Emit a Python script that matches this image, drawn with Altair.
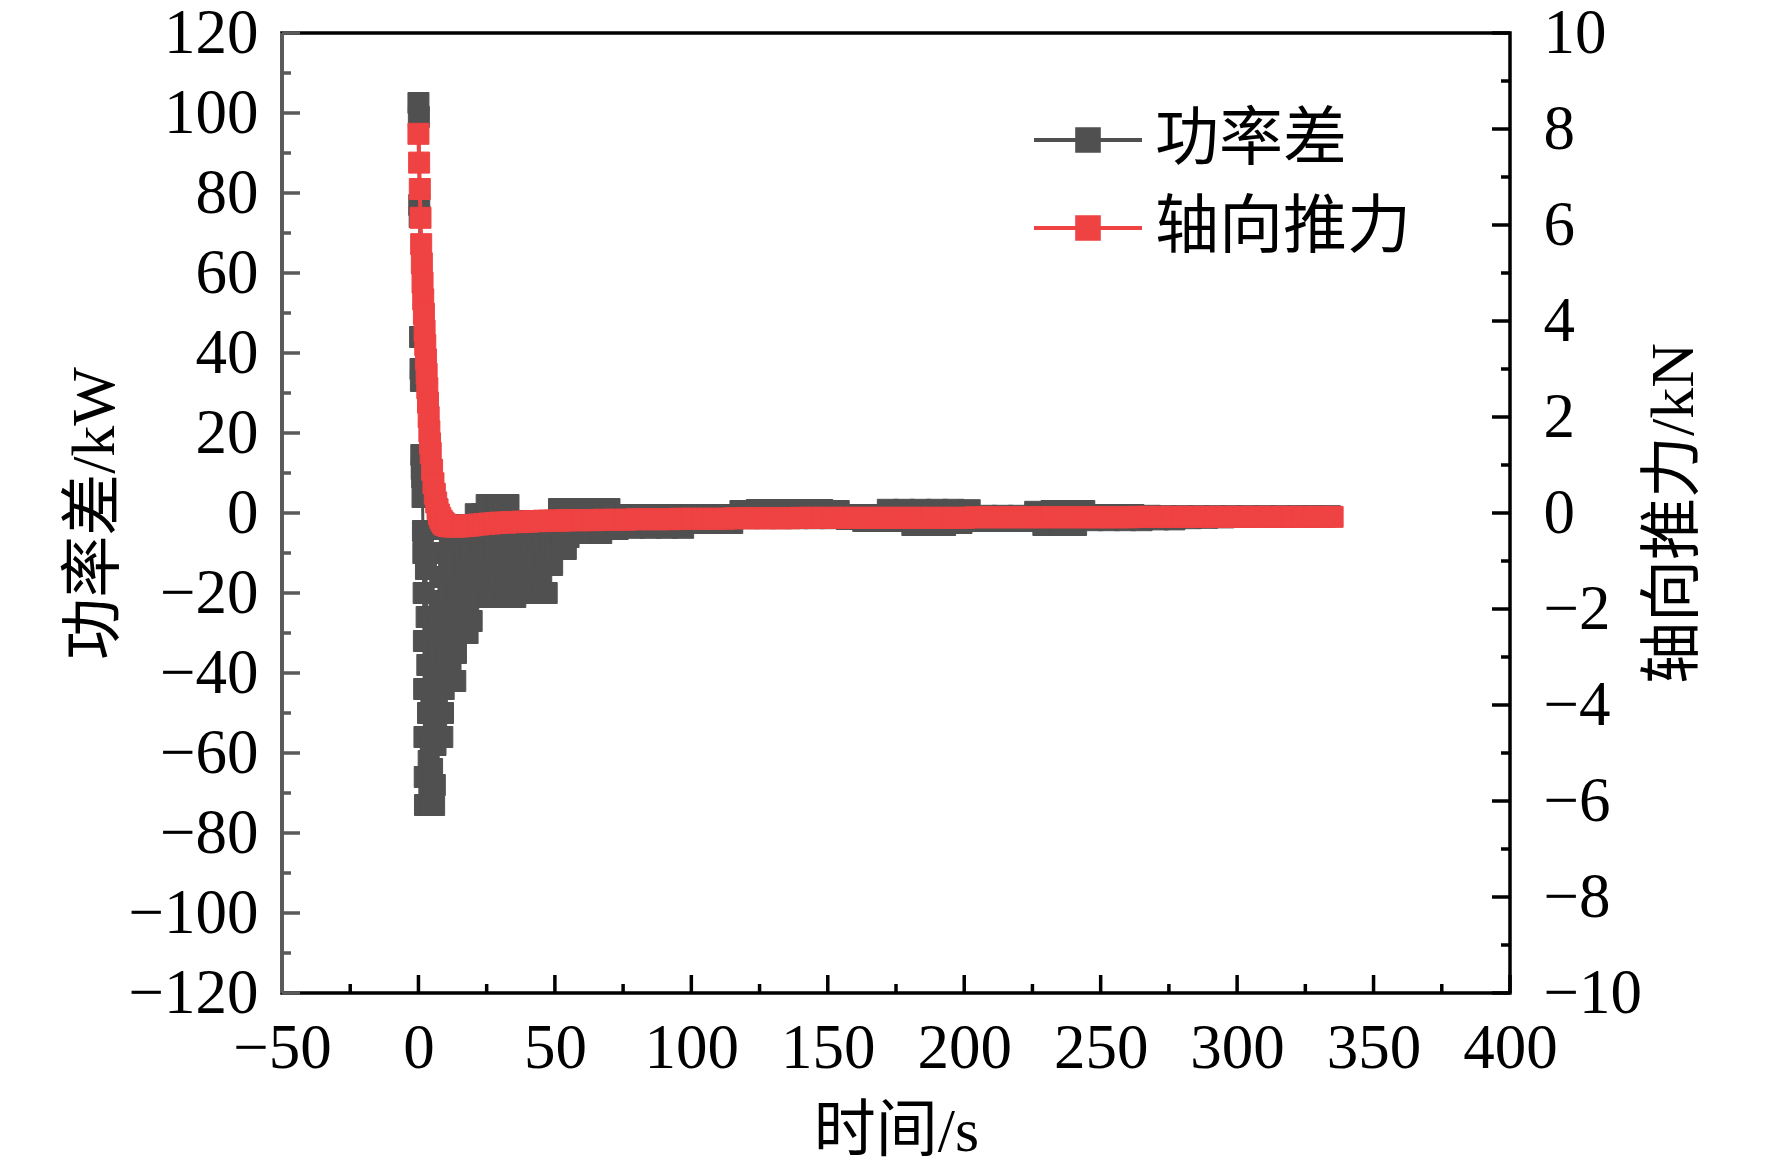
import altair as alt
import pandas as pd

# ---------------- data ----------------
# power difference (kW), piecewise by time span
time_power_a = [0, 0.15, 0.3, 0.45, 0.6, 0.75, 0.9, 1.05, 1.2, 1.35, 1.5, 1.65, 1.8]
power_kw_a = [102.5, 99, 77, 74, 44, 36, 33, 14.5, 11, 9, 4, -4.5, -10]

time_power_b = [1.9, 2.0, 2.1, 2.2, 2.3, 2.4, 2.75, 3.0, 3.25, 3.5,
                3.75, 4.0, 4.25, 4.5, 4.75, 5.0, 5.25, 5.5, 5.75]
power_kw_b = [-20, -32, -44, -56, -66, -73, -14, -26, -38, -50,
              -62, -70, -73, -58, -47, -64, -73, -68, -73]

time_power_c = [6.0, 6.25, 6.5, 6.75, 7.0, 7.25, 7.5, 7.75, 8.0, 8.25, 8.5, 8.75, 9.0, 9.25, 9.5, 9.75]
power_kw_c = [-68, -58, -52, -46, -40, -34, -28, -22, -16, -10, -4, -56, -50, -44, -38, -30]

time_power_d = [10.0, 10.25, 10.5, 10.75, 11.0, 11.25, 11.5, 11.75, 12.0, 12.25,
                12.5, 12.75, 13.0, 13.25, 13.5, 13.75, 14.0, 14.25, 14.5, 14.75]
power_kw_d = [-42, -36, -30, -24, -18, -12, -6, -40, -33, -27,
              -21, -15, -9, -3, -42, -35, -28, -20, -13, -7]

time_power_e = [15.0, 15.25, 15.5, 15.75, 16.0, 16.25, 16.5, 16.75, 17.0, 17.25,
                17.5, 17.75, 18.0, 18.25, 18.5, 18.75, 19.0, 19.25, 19.5, 19.75]
power_kw_e = [-30, -25, -20, -15, -10, -5, -28, -22, -17, -12,
              -7, -3, -30, -24, -18, -13, -8, -4, -27, -20]

time_power_f = [20.5, 21, 21.5, 22, 22.5, 23, 23.5, 24, 24.5, 25,
                25.5, 26, 26.5, 27, 27.5, 28, 28.5, 29, 29.5, 30,
                30.5, 31, 31.5, 32, 32.5, 33, 33.5, 34, 34.5, 35,
                35.5, 36, 36.5, 37, 37.5, 38, 38.5, 39, 39.5, 40,
                40.5, 41, 41.5, 42, 42.5, 43, 43.5, 44, 44.5, 45,
                45.5, 46, 46.5, 47, 47.5, 48, 48.5, 49, 49.5, 50,
                50.5, 51, 51.5, 52, 52.5, 53, 53.5, 54, 54.5, 55,
                55.5, 56, 56.5, 57, 57.5, 58, 58.5, 59, 59.5, 60]
power_kw_f = [-21, -0.3, -14, -6, -19, -10, -0.3, -16, -4, 2,
              -12, -21, -7, 2, -18, -10, -3, 2, -15, -21,
              -8, 2, -13, -19, -4, 2, -10, -21, -16, -6,
              -21, -11, -2, -17, -8, -14, -3, -10, -6, -12,
              -2, -16, -8, -20, -4, -14, -10, -20, -2, -16,
              -6, -20, -11, -20, -3, -13, -7, -13, -2, -9,
              -4, -9, 1, -6, -9, 1, -5, -9, 1, -6,
              -2, 1, -5, -2, 1, -5, -2, 1, -5, 1]

time_power_g = [61, 64, 67, 70, 73, 76, 79, 82, 85, 88,
                91, 94, 97, 100, 103, 106, 109, 112, 115, 118,
                121, 124, 127, 130, 133, 136, 139, 142, 145, 148,
                151, 154, 157, 160, 163, 166, 169, 172, 175, 178,
                181, 184, 187, 190, 193, 196, 199, 202, 205, 208,
                211, 214, 217, 220, 223, 226, 229, 232, 235, 238,
                241, 244, 247, 250, 253, 256, 259, 262, 265, 268,
                271, 274, 277, 280, 283, 286, 289, 292, 295, 298,
                301, 304, 307, 310, 313, 316, 319, 322, 325, 328,
                331, 334]
power_kw_g = [-5, 1, -5, 1, -4, -0.5, -3.7, -0.5, -3.7, -0.5,
              -3.7, -0.5, -3.7, -0.5, -2.5, -0.5, -2.5, -0.5, -2.5, 0.5,
              -1.3, 0.75, -1.3, 0.75, -1.3, 0.75, -1.3, 0.75, -1.3, 0.75,
              -1.3, 0.5, -1.5, -0.5, -2, -0.5, -2, 0.8, -2, 0.8,
              -3, 0.8, -3, 0.8, -3, 0.8, -2.5, 0.7, -2, -0.7,
              -2, -0.7, -2, -0.7, -2, 0.3, -3, 0.5, -3, 0.5,
              -3, 0.5, -1.8, -0.5, -1.8, -0.5, -1.8, -0.5, -1.8, -0.7,
              -1.6, -0.8, -1.6, -0.8, -1.3, -0.8, -1.2, -0.8, -1.1, -0.8,
              -1.0, -0.8, -1.0, -0.8, -1.0, -0.8, -1.0, -0.8, -0.9, -0.8,
              -0.9, -0.8]

time_power = time_power_a + time_power_b + time_power_c + time_power_d + time_power_e + time_power_f + time_power_g
power_kw = power_kw_a + power_kw_b + power_kw_c + power_kw_d + power_kw_e + power_kw_f + power_kw_g

# axial thrust (kN)
time_thrust = [0, 0.25, 0.5, 0.75, 1, 1.25, 1.5, 1.75, 2, 2.25,
               2.5, 2.75, 3, 3.25, 3.5, 3.75, 4, 4.25, 4.5, 5,
               5.5, 6, 6.5, 7, 7.5, 8, 8.5, 9, 9.5, 10,
               11, 12, 13, 14, 15, 16, 17, 18, 19, 20,
               22, 24, 26, 28, 30, 32, 34, 36, 38, 40,
               42, 44, 46, 48, 50, 52, 54, 56, 58, 60,
               64, 68, 72, 76, 80, 84, 88, 92, 96, 100,
               104, 108, 112, 116, 120, 124, 128, 132, 136, 140,
               144, 148, 152, 156, 160, 164, 168, 172, 176, 180,
               184, 188, 192, 196, 200, 204, 208, 212, 216, 220,
               224, 228, 232, 236, 240, 244, 248, 252, 256, 260,
               264, 268, 272, 276, 280, 284, 288, 292, 296, 300,
               304, 308, 312, 316, 320, 324, 328, 332, 335]
thrust_kn = [7.9, 7.3, 6.75, 6.15, 5.6, 5.2, 4.8, 4.45, 4.15, 3.8,
             3.5, 3.2, 2.9, 2.6, 2.3, 2.0, 1.7, 1.45, 1.25, 0.9,
             0.62, 0.4, 0.22, 0.08, -0.03, -0.1, -0.16, -0.2, -0.23, -0.25,
             -0.27, -0.28, -0.28, -0.28, -0.28, -0.27, -0.27, -0.26, -0.26, -0.25,
             -0.24, -0.23, -0.22, -0.21, -0.2, -0.2, -0.19, -0.19, -0.18, -0.18,
             -0.17, -0.17, -0.16, -0.16, -0.16, -0.16, -0.15, -0.15, -0.15, -0.15,
             -0.15, -0.14, -0.14, -0.14, -0.13, -0.13, -0.13, -0.13, -0.12, -0.12,
             -0.12, -0.12, -0.12, -0.11, -0.11, -0.11, -0.11, -0.11, -0.11, -0.1,
             -0.1, -0.1, -0.1, -0.1, -0.1, -0.1, -0.1, -0.1, -0.1, -0.1,
             -0.1, -0.1, -0.1, -0.1, -0.1, -0.09, -0.09, -0.09, -0.09, -0.09,
             -0.09, -0.09, -0.09, -0.09, -0.09, -0.09, -0.09, -0.09, -0.09, -0.09,
             -0.08, -0.08, -0.08, -0.08, -0.08, -0.08, -0.08, -0.08, -0.08, -0.08,
             -0.08, -0.08, -0.08, -0.08, -0.08, -0.08, -0.08, -0.08, -0.08]

series_names = ["功率差", "轴向推力"]

x_major = [-50, 0, 50, 100, 150, 200, 250, 300, 350, 400]
x_minor = [-25, 25, 75, 125, 175, 225, 275, 325, 375]
left_major = [-120, -100, -80, -60, -40, -20, 0, 20, 40, 60, 80, 100, 120]
left_minor = [-110, -90, -70, -50, -30, -10, 10, 30, 50, 70, 90, 110]
right_major = [-10, -8, -6, -4, -2, 0, 2, 4, 6, 8, 10]
right_minor = [-9, -7, -5, -3, -1, 1, 3, 5, 7, 9]

# ---------------- styles ----------------
COLORS = ["#505050", "#EF4242"]
AXIS_GRAY = "#5A5A5A"
FONT = "Liberation Serif, Noto Sans CJK SC"
W, H = 1228, 960
TMAJ, TMIN = 18, 9
LW = 3.5
PATH = "M-1,0H-0.2M0.2,0H1M-0.2,-0.2H0.2V0.2H-0.2Z"

power_df = pd.DataFrame({"t": time_power, "kw": power_kw, "series": series_names[0]})
thrust_df = pd.DataFrame({"t": time_thrust, "kn": thrust_kn, "series": series_names[1]})


def x_enc():
    return alt.X("t:Q", scale=alt.Scale(domain=[-50, 400], nice=False, zero=False),
                 axis=alt.Axis(values=x_major, format="d", ticks=False, domain=False, grid=False,
                               labelFont=FONT, labelFontSize=63, labelColor="black", labelPadding=24,
                               labelOverlap=False, labelFlush=False,
                               title="时间/s", titleFont=FONT, titleFontSize=62, titleFontWeight="normal",
                               titleColor="black", titleX=W / 2, titleY=138, titleAlign="center",
                               titleBaseline="middle"))


def yl_enc():
    return alt.Y("kw:Q", scale=alt.Scale(domain=[-120, 120], nice=False, zero=False),
                 axis=alt.Axis(values=left_major, format="d", ticks=False, domain=False, grid=False,
                               orient="left",
                               labelFont=FONT, labelFontSize=63, labelColor="black", labelPadding=24,
                               labelOverlap=False, labelFlush=False,
                               title="功率差/kW", titleFont=FONT, titleFontSize=62, titleFontWeight="normal",
                               titleColor="black", titleX=-188, titleY=H / 2, titleAngle=270,
                               titleAlign="center", titleBaseline="middle"))


def yr_enc():
    return alt.Y("kn:Q", scale=alt.Scale(domain=[-10, 10], nice=False, zero=False),
                 axis=alt.Axis(values=right_major, format="d", ticks=False, domain=False, grid=False,
                               orient="right",
                               labelFont=FONT, labelFontSize=63, labelColor="black", labelPadding=33,
                               labelOverlap=False, labelFlush=False,
                               title="轴向推力/kN", titleFont=FONT, titleFontSize=62, titleFontWeight="normal",
                               titleColor="black", titleX=163, titleY=H / 2, titleAngle=270,
                               titleAlign="center", titleBaseline="middle"))


def legend():
    return alt.Legend(title=None, orient="none", legendX=750, legendY=51,
                      symbolType=PATH, symbolSize=11664, symbolStrokeWidth=4,
                      labelFont=FONT, labelFontSize=64, labelColor="black", labelOffset=11,
                      labelLimit=0, rowPadding=-23, padding=0)


def fill_enc():
    return alt.Color("series:N", scale=alt.Scale(domain=series_names, range=COLORS), legend=legend())


def stroke_enc():
    return alt.Stroke("series:N", scale=alt.Scale(domain=series_names, range=COLORS), legend=legend())


# ---------------- left (power) group ----------------
gray_line = alt.Chart(power_df).mark_line(color=COLORS[0], strokeWidth=3).encode(x=x_enc(), y=yl_enc())
gray_pts = alt.Chart(power_df).mark_point(shape="square", filled=True, size=441, opacity=1,
                                          strokeWidth=1).encode(
    x=x_enc(), y=yl_enc(), color=fill_enc(), stroke=stroke_enc())

lmaj = alt.Chart(pd.DataFrame({"kw": left_major})).mark_rule(color=AXIS_GRAY, strokeWidth=LW).encode(
    y=yl_enc(), x=alt.value(0), x2=alt.value(TMAJ))
lmin = alt.Chart(pd.DataFrame({"kw": left_minor})).mark_rule(color=AXIS_GRAY, strokeWidth=LW).encode(
    y=yl_enc(), x=alt.value(0), x2=alt.value(TMIN))
bmaj = alt.Chart(pd.DataFrame({"t": x_major})).mark_rule(color="black", strokeWidth=LW).encode(
    x=x_enc(), y=alt.value(H), y2=alt.value(H - TMAJ))
bmin = alt.Chart(pd.DataFrame({"t": x_minor})).mark_rule(color="black", strokeWidth=LW).encode(
    x=x_enc(), y=alt.value(H), y2=alt.value(H - TMIN))
laxis = alt.Chart(pd.DataFrame({"kw": [0]})).mark_rule(color=AXIS_GRAY, strokeWidth=4).encode(
    x=alt.value(0), y=alt.value(0), y2=alt.value(H))

left = alt.layer(gray_line, gray_pts, lmaj, lmin, bmaj, bmin, laxis)

# ---------------- right (thrust) group ----------------
red_line = alt.Chart(thrust_df).mark_line(color=COLORS[1], strokeWidth=4).encode(x=x_enc(), y=yr_enc())
red_pts = alt.Chart(thrust_df).mark_point(shape="square", filled=True, size=441, opacity=1,
                                          strokeWidth=1).encode(
    x=x_enc(), y=yr_enc(), color=fill_enc(), stroke=stroke_enc())
rmaj = alt.Chart(pd.DataFrame({"kn": right_major})).mark_rule(color="black", strokeWidth=LW).encode(
    y=yr_enc(), x=alt.value(W - TMAJ), x2=alt.value(W))
rmin = alt.Chart(pd.DataFrame({"kn": right_minor})).mark_rule(color="black", strokeWidth=LW).encode(
    y=yr_enc(), x=alt.value(W - TMIN), x2=alt.value(W))

right = alt.layer(red_line, red_pts, rmaj, rmin)

chart = (
    alt.layer(left, right)
    .resolve_scale(y="independent")
    .properties(width=W, height=H,
                padding={"left": 274, "top": 25, "right": 254, "bottom": 175},
                autosize=alt.AutoSizeParams(type="none"), background="white")
    .configure_view(stroke="black", strokeWidth=LW)
)

chart.save("out.html", embed_options={"renderer": "svg", "actions": False})
